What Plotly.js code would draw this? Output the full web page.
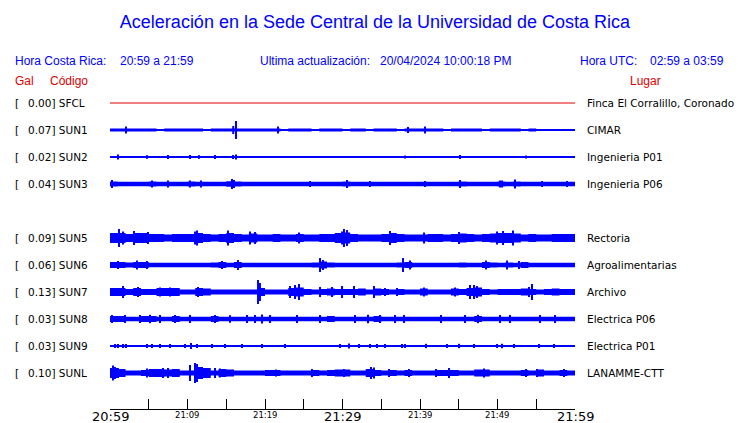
<!DOCTYPE html>
<html><head><meta charset="utf-8">
<script src="https://cdn.plot.ly/plotly-3.0.1.min.js"></script>
<style>body{margin:0;background:#fff}#chart{width:740px;height:423px}</style>
</head><body><div id="chart"></div>
<script>
// ---------------- data ----------------
const codes  = ['SFCL','SUN1','SUN2','SUN3','SUN5','SUN6','SUN7','SUN8','SUN9','SUNL'];
const rows   = [0,1,2,3,5,6,7,8,9,10];
const peakGal = ['0.00','0.07','0.02','0.04','0.09','0.06','0.13','0.03','0.03','0.10'];
const places = ['Finca El Corralillo, Coronado','CIMAR','Ingenieria P01','Ingenieria P06','Rectoria','Agroalimentarias','Archivo','Electrica P06','Electrica P01','LANAMME-CTT'];

const tickMinutes = [0,5,10,15,20,25,30,35,40,45,50,55,60];
const tickText    = ['20:59','','21:09','','21:19','','21:29','','21:39','','21:49','','21:59'];
const tickBig     = [1,0,0,0,0,0,1,0,0,0,0,0,1];

// envelope half-amplitude per minute (relative units, 27 = row spacing)
const envSFCL = [0,0,0,0,0,0,0,0,0,0,0,0,0,0,0,0,0,0,0,0,0,0,0,0,0,0,0,0,0,0,0,0,0,0,0,0,0,0,0,0,0,0,0,0,0,0,0,0,0,0,0,0,0,0,0,0,0,0,0,0];
const envSUN1 = [1.6,1.6,1.6,1.6,1.6,1.6,1.1,1.6,1.6,1.6,1.6,1.6,1.1,1.6,1.6,1.6, 1.6,1.6,1.6,1.6,1.6,1.6,1.1,1.6,1.6,1.6,1.1,1.6,1.6,1.6,1.1,1.6,1.6,1.1,1.6,1.6,1.6,1.1,1.6,1.6,1.6,1.6,1.6,1.1,1.6,1.6,1.6,1.6,1.1,1.6,1.6,1.6,1.6,1.1,1.6,1.1,1,1,1,1];
const envSUN2 = [1,1,1,1,1,1,1,1,1,1,1,1,1,1,1,1,1,1,1,1,1,1,1,1,1,1,1,1,1,1,1,1,1,1,1,1,1,1,1,1,1,1,1,1,1,1,1,1,1,1,1,1,1,1,1,1,1,1,1,1];
const envSUN3 = [2.5,2.3,2.3,2.3,2.3,2.5,2.3,2.3,2.3,2.3,2.5,2.3,2.3,2.3,2.3,2.8,2.5,2.3,2.3,2.3,2.3,2.3,2.3,2.3,2.3,2.3,2.3,2.3,2.3,2.3,2.5,2.3,2.3,2.3,2.3,2.3,2.3,2.3,2.3,2.3,2.3,2.3,2.3,2.3,2.3,2.5,2.3,2.3,2.3,2.3,2.5,2.3,2.5,2.3,2.3,2.3,2.3,2.3,2.3,2.3];
const envSUN5 = [5,5,4,5,5,4,4,3.5,4,4, 4,5,4,3.5,4,5,4,3.5,4.5,3.5, 3.5,4,3.5,3.5,4,3.5,3.5,4,4,5, 5.5,4,3.5,3.5,3.5,4,5,4,3.5,3.5, 3.5,4,4,3.5,4,4.5,4,3.5,4,4.5, 5,5,4.5,3.5,4,3.5,3.5,4,4,4];
const envSUN6 = [3,3,2.5,3,3,2.2,2.2,2.2,2.2,2.2, 2.2,2.2,2.2,2.5,3,2.2,3,2.2,2.2,2.2, 2.2,2.2,2.2,2.2,2.2,2.2,2.5,3.5,2.5,2.2, 2.2,2.2,2.2,2.2,2.2,2.2,2.2,2.5,3,2.2, 2.2,2.2,2.2,2.2,2.2,2.5,2.2,2.2,3,2.5, 2.2,2.5,2.2,3,2.2,2.2,2.2,2.2,2.2,2.2];
const envSUN7 = [4,4,3,4,3,3,4,4,4,2.5, 2.5,4,3.5,2.5,2.5,2.5,2.5,2.5,2.5,4, 2.5,2.5,2.5,4,4.5,3,2.5,3,3.5,3, 3,3,3.5,2.5,3.5,3,2.5,3,2.5,2.5, 3.5,2.5,2.5,2.5,3.5,3,4,4.5,3,2.5, 3,3,3,3.5,3,2.5,3,3.5,3,3];
const envSUN8 = [3,3,2.3,2.3,3,3,2.3,2.3,3,2.3, 2.3,2.3,2.3,3,2.3,2.3,2.3,2.3,2.3,2.3, 2.3,2.3,2.3,2.3,2.3,2.3,2.3,2.3,3,2.3, 2.3,2.3,2.3,2.3,3,2.3,2.3,2.3,2.3,2.3, 2.3,2.3,2.3,2.3,2.3,2.3,2.3,3,2.3,2.3, 2.3,2.3,2.3,2.3,2.3,2.3,2.3,2.3,2.3,2.3];
const envSUN9 = [1,1,1,1,1,1,1,1,1,1,1,1,1,1,1,1,1,1,1,1,1,1,1,1,1,1,1,1,1,1,1,1,1,1,1,1,1,1,1,1,1,1,1,1,1,1,1,1,1,1,1,1,1,1,1,1,1,1,1,1];
const envSUNL = [5,4,2.5,2.5,3,4,4,3.5,4,2.5, 2.5,6,5,2.5,4,3.5,2.5,2.5,2.5,2.5, 3,3,2.5,2.5,2.5,2.5,3,2.5,3,3.5, 3.5,2.5,2.5,4,3,2.5,3,2.5,3,2.5, 2.5,2.5,3,3,3,2.5,2.5,3.5,3.5,2.5, 2.5,2.5,2.5,3,2.5,3.5,2.5,2.5,3,2.5];

// individual peaks: time (minutes after 20:59) and half-amplitude
const pkT_SFCL = [], pkA_SFCL = [];
const pkT_SUN1 = [2.06,15.9,16.26,21.68,38.45,40.65];
const pkA_SUN1 = [3.5,4,9,3.5,3,3.5];
const pkT_SUN2 = [1.03,4.77,7.48,10.32,11.48,13.55,15.87,16.26,38.06,45.16,53.68];
const pkA_SUN2 = [2.5,1.8,2,2,1.8,2,2,2.5,1.5,2,1.5];
const pkT_SUN3 = [0.26,5.42,7.48,10.32,11.74,15.74,16.0,25.81,30.58,33.55,40.65,45.16,50.32,50.58,52.26,55.74,58.97];
const pkA_SUN3 = [4,3.5,3.5,3.5,3.5,5,4,3,4,3,3,4,3.5,3.5,4.5,3,3];
const pkT_SUN5 = [1.16,1.68,3.10,4.90,10.97,11.23,15.23,18.06,18.71,24.39,29.94,30.19,30.58,36.13,40.52,45.03,49.94,50.71,52.0];
const pkA_SUN5 = [9,6.5,7,6,6.5,7.5,7.5,6.5,6,5.5,6.5,9,8,7,5.5,6,6.5,7,7.5];
const pkT_SUN6 = [1.03,3.48,4.77,14.45,16.52,27.10,27.48,37.81,38.71,48.52,51.23,52.77];
const pkA_SUN6 = [4,4.5,4,4,5,7,5,7,4.5,4.5,4.5,4];
const pkT_SUN7 = [1.68,3.61,6.45,7.74,11.35,19.10,19.35,23.23,23.87,24.39,27.10,28.65,29.94,31.48,34.06,35.48,37.03,40.52,44.52,46.45,46.97,47.35,54.06,54.45];
const pkA_SUN7 = [6,5,4.5,4.5,5,12,9,6,7,8,5,5,6,6,6,4,4,4.5,4.5,7,7,6,5,8];
const pkT_SUN8 = [0.26,1.94,3.87,5.16,6.45,8.39,10.32,13.55,15.48,17.68,18.71,19.61,20.65,24.13,27.10,31.61,33.29,34.84,36.77,37.94,42.71,45.81,47.48,50.32,51.61,55.48,57.42];
const pkA_SUN8 = [4,4,4,4.2,4,4,4,4,3.8,4,4,4.5,4,4,4,4,4.2,4,4,4,4,4,4.2,4,4,4,4];
const pkT_SUN9 = [0.65,1.03,1.68,2.06,4.77,5.42,6.45,7.74,9.68,10.45,11.23,13.16,14.84,17.03,19.61,22.58,29.68,30.84,32.13,33.55,34.45,35.48,37.68,38.06,40.77,43.48,45.03,46.97,49.94,50.58,52.13,55.35,57.29];
const pkA_SUN9 = [2,2,2,2,2,2,2,2,2,3,2,2,2,2,2,2,2,2.5,2,2,2,2,2,2,2.2,2,2.2,2,2,2.2,2,2,2];
const pkT_SUNL = [0.39,0.65,1.03,4.77,6.84,7.48,10.32,10.97,11.23,11.87,13.55,14.19,21.42,26.06,30.19,33.68,34.06,36.0,38.58,42.06,43.74,48.26,53.68,55.1,58.58];
const pkA_SUNL = [7.5,6,5,4.5,5,5,8,10,9,6,5,4.5,3.5,4,4,6,5.5,4,4,4,5,4.5,4,4,4];

const envs  = [envSFCL,envSUN1,envSUN2,envSUN3,envSUN5,envSUN6,envSUN7,envSUN8,envSUN9,envSUNL];
const pkTs  = [pkT_SFCL,pkT_SUN1,pkT_SUN2,pkT_SUN3,pkT_SUN5,pkT_SUN6,pkT_SUN7,pkT_SUN8,pkT_SUN9,pkT_SUNL];
const pkAs  = [pkA_SFCL,pkA_SUN1,pkA_SUN2,pkA_SUN3,pkA_SUN5,pkA_SUN6,pkA_SUN7,pkA_SUN8,pkA_SUN9,pkA_SUNL];

// ---------------- drawing ----------------
const ROWUNIT = 27;          // relative amplitude units per row
const W = 740, H = 423, L = 110, R = 165, T = 90, B = 14;
const PW = W - L - R, PH = H - T - B;
const px2x = p => (p - L) / PW;
const px2y = p => (H - B - p) / PH;
const BLUE = '#0000ff', RED = '#e00000';

const traces = [];
codes.forEach((c, i) => {
  const r = rows[i], env = envs[i];
  const col = c === 'SFCL' ? RED : BLUE;
  traces.push({x:[0,60], y:[r,r], mode:'lines', line:{color:col, width: c==='SFCL'?1:1.5}, hoverinfo:'skip'});
  if (env.some(v => v > 0)) {
    const xs = env.map((v, j) => j).concat([env.length]);
    const lo = env.map(v => r + v/ROWUNIT); lo.push(lo[lo.length-1]);
    const hi = env.map(v => r - v/ROWUNIT); hi.push(hi[hi.length-1]);
    traces.push({x:xs, y:lo, mode:'lines', line:{color:col, width:0, shape:'hv'}, hoverinfo:'skip'});
    traces.push({x:xs, y:hi, mode:'lines', line:{color:col, width:0, shape:'hv'}, fill:'tonexty', fillcolor:col, hoverinfo:'skip'});
  }
  const sx = [], sy = [];
  pkTs[i].forEach((t, k) => { const a = pkAs[i][k]/ROWUNIT; sx.push(t, t, null); sy.push(r - a, r + a, null); });
  if (sx.length) traces.push({x:sx, y:sy, mode:'lines', line:{color:col, width:2}, hoverinfo:'skip'});
});

const ann = [];
const hdr = (text, px, py, color, anchor) => ann.push({text, xref:'paper', yref:'paper', x:px2x(px), y:px2y(py),
  xanchor:anchor||'left', yanchor:'middle', showarrow:false, font:{family:'Liberation Sans, Arial', size:12, color}});
hdr('Hora Costa Rica:', 13, 61, BLUE);
hdr('20:59 a 21:59', 118, 61, BLUE);
hdr('Ultima actualización:', 258, 61, BLUE);
hdr('20/04/2024 10:00:18 PM', 378, 61, BLUE);
hdr('Hora UTC:', 578, 61, BLUE);
hdr('02:59 a 03:59', 648, 61, BLUE);
hdr('Gal', 13, 81, RED);
hdr('Código', 48, 81, RED);
hdr('Lugar', 628, 81, RED);

codes.forEach((c, i) => {
  const f = {family:'DejaVu Sans', size:10.5, color:'#000'};
  ann.push({text:'[', xref:'paper', yref:'y', x:px2x(13), y:rows[i], xanchor:'left', yanchor:'middle', showarrow:false, font:f});
  ann.push({text:peakGal[i] + '] ' + c, xref:'paper', yref:'y', x:px2x(26), y:rows[i], xanchor:'left', yanchor:'middle', showarrow:false, font:f});
  ann.push({text:places[i], xref:'paper', yref:'y', x:px2x(585), y:rows[i], xanchor:'left', yanchor:'middle', showarrow:false, font:f});
});

tickMinutes.forEach((m, k) => {
  if (!tickText[k]) return;
  const big = tickBig[k] === 1;
  ann.push({text:tickText[k], xref:'x', yref:'paper', x:m, y:px2y(big ? 416 : 415), xanchor:'center', yanchor:'middle', showarrow:false,
    borderpad:0, height: big ? 13 : 10, font:{family:'DejaVu Sans', size: big ? 13 : 8.5, color:'#000'}});
});

const layout = {
  width:W, height:H, margin:{l:L, r:R, t:T, b:B}, showlegend:false,
  paper_bgcolor:'#fff', plot_bgcolor:'#fff',
  title:{text:'Aceleración en la Sede Central de la Universidad de Costa Rica', x:375/W, xref:'container', xanchor:'center',
    y:1 - 22/H, yref:'container', yanchor:'middle', font:{family:'Liberation Sans, Arial', size:18, color:BLUE}},
  xaxis:{range:[0,60], tickvals:tickMinutes, showticklabels:false, ticks:'inside', ticklen:10, tickcolor:'#000', tickwidth:1,
    showline:true, linecolor:'#000', linewidth:1, showgrid:false, zeroline:false, fixedrange:true},
  yaxis:{range:[11.3333,-0.4815], visible:false, showgrid:false, zeroline:false, fixedrange:true},
  annotations:ann
};
Plotly.newPlot('chart', traces, layout, {staticPlot:true, displayModeBar:false});
</script></body></html>
